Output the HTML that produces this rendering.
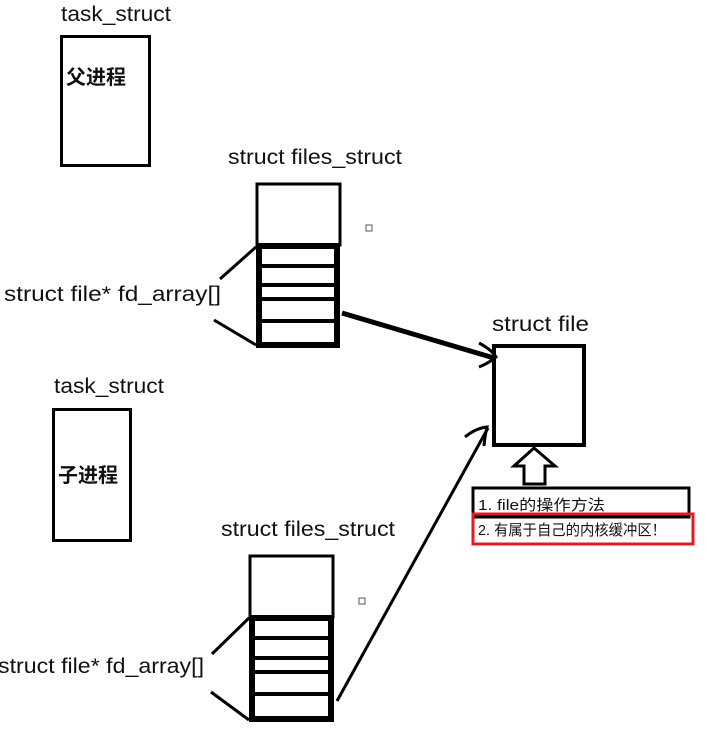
<!DOCTYPE html>
<html><head><meta charset="utf-8"><style>
body{margin:0;background:#fff;}
svg text{font-family:"Liberation Sans","Noto Sans CJK SC",sans-serif;fill:#111;}
</style></head><body>
<svg width="707" height="731" viewBox="0 0 707 731" xmlns="http://www.w3.org/2000/svg">
<rect width="707" height="731" fill="#fff"/>
<text x="61" y="21" font-size="21" textLength="110" lengthAdjust="spacingAndGlyphs">task_struct</text>
<rect x="61.5" y="36.5" width="88" height="129" fill="none" stroke="#000" stroke-width="3"/>
<text x="66" y="84" font-size="20" font-weight="bold">父进程</text>

<text x="228" y="164" font-size="21" textLength="174" lengthAdjust="spacingAndGlyphs">struct files_struct</text>
<rect x="257" y="184" width="83" height="61" fill="none" stroke="#000" stroke-width="3"/>
<rect x="259" y="246" width="78" height="99" fill="none" stroke="#000" stroke-width="6"/>
<g stroke="#000" stroke-width="4">
<line x1="259" y1="266" x2="337" y2="266"/><line x1="259" y1="285" x2="337" y2="285"/>
<line x1="259" y1="299" x2="337" y2="299"/><line x1="259" y1="321" x2="337" y2="321"/>
</g>
<text x="4" y="301" font-size="21" textLength="217" lengthAdjust="spacingAndGlyphs">struct file* fd_array[]</text>
<line x1="220" y1="279" x2="256" y2="247" stroke="#000" stroke-width="3"/>
<line x1="214" y1="320" x2="256" y2="345" stroke="#000" stroke-width="3"/>
<rect x="366" y="225" width="6" height="6" fill="none" stroke="#555" stroke-width="1"/>

<text x="492" y="331" font-size="21" textLength="97" lengthAdjust="spacingAndGlyphs">struct file</text>
<rect x="494" y="346" width="90" height="99" fill="none" stroke="#000" stroke-width="4"/>
<line x1="342" y1="313" x2="494" y2="358" stroke="#000" stroke-width="5"/>
<path d="M479 343 Q492 350 496 357 Q489 363 479 367" fill="none" stroke="#000" stroke-width="3"/>
<line x1="337" y1="701" x2="488" y2="428" stroke="#000" stroke-width="3"/>
<path d="M465 437 Q476 428 487 427 Q485 435 484 446" fill="none" stroke="#000" stroke-width="3"/>
<path d="M534 448 L555 466 L545 466 L545 484 L524 484 L524 466 L514 466 Z" fill="#fff" stroke="#000" stroke-width="3" stroke-linejoin="miter"/>

<rect x="473" y="488" width="216" height="29" fill="#fff" stroke="#000" stroke-width="3"/>
<text x="478" y="510" font-size="15" textLength="127" lengthAdjust="spacingAndGlyphs">1. file的操作方法</text>
<rect x="473" y="514" width="220" height="30" fill="none" stroke="#e01b24" stroke-width="3"/>
<text x="478" y="535" font-size="15" textLength="188" lengthAdjust="spacingAndGlyphs">2. 有属于自己的内核缓冲区！</text>

<text x="54" y="393" font-size="21" textLength="110" lengthAdjust="spacingAndGlyphs">task_struct</text>
<rect x="53.5" y="409.5" width="77" height="131" fill="none" stroke="#000" stroke-width="3"/>
<text x="58" y="482" font-size="20" font-weight="bold">子进程</text>

<text x="221" y="536" font-size="21" textLength="174" lengthAdjust="spacingAndGlyphs">struct files_struct</text>
<rect x="250" y="556" width="83" height="61" fill="none" stroke="#000" stroke-width="3"/>
<rect x="252" y="618" width="79" height="101" fill="none" stroke="#000" stroke-width="6"/>
<g stroke="#000" stroke-width="4">
<line x1="252" y1="638" x2="331" y2="638"/><line x1="252" y1="658" x2="331" y2="658"/>
<line x1="252" y1="672" x2="331" y2="672"/><line x1="252" y1="694" x2="331" y2="694"/>
</g>
<text x="-2" y="673" font-size="21" textLength="206" lengthAdjust="spacingAndGlyphs">struct file* fd_array[]</text>
<line x1="212" y1="654" x2="249" y2="618" stroke="#000" stroke-width="3"/>
<line x1="211" y1="692" x2="249" y2="720" stroke="#000" stroke-width="3"/>
<rect x="359" y="598" width="6" height="6" fill="none" stroke="#555" stroke-width="1"/>
</svg>
</body></html>
